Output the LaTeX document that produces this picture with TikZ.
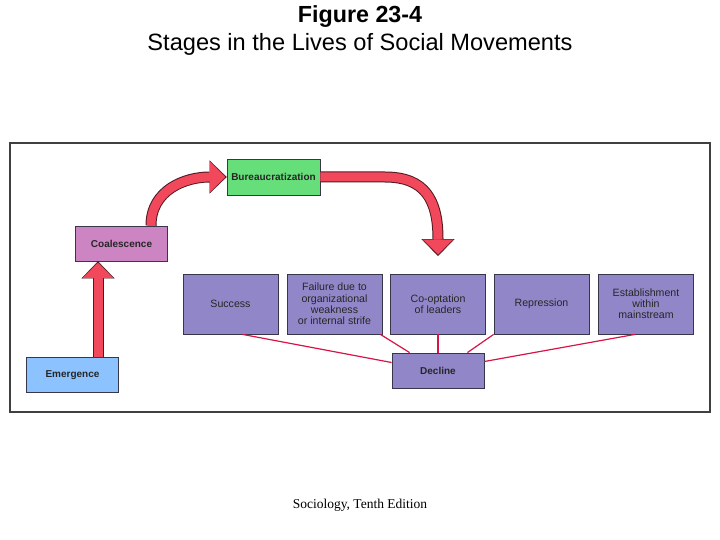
\documentclass[tikz,border=0pt]{standalone}
\usepackage{fontspec}
\setmainfont{Liberation Serif}
\setsansfont{Liberation Sans}
\usetikzlibrary{arrows.meta,calc}
\definecolor{emerg}{RGB}{140,195,255}
\definecolor{coal}{RGB}{205,132,195}
\definecolor{bureau}{RGB}{102,222,122}
\definecolor{stage}{RGB}{145,135,200}
\definecolor{fat}{RGB}{242,72,92}
\definecolor{fatline}{RGB}{80,25,35}
\definecolor{link}{RGB}{215,20,70}
\definecolor{edge}{RGB}{55,55,75}

\begin{document}
\begin{tikzpicture}[x=1pt,y=-1pt,
    box/.style={draw=edge,line width=0.8pt,fill=stage,
                minimum width=95pt,minimum height=60pt,inner sep=1pt,
                font=\fontsize{10.6}{11.2}\selectfont\sffamily,align=center,text=black!85},
    small/.style={box,minimum width=92pt,minimum height=35pt,
                  font=\fontsize{10}{11}\selectfont\sffamily\bfseries},
    fatout/.style={draw=fatline,line width=11pt,
                   -{Triangle[length=17pt,width=33pt,line width=0.1pt]}},
    fatin/.style={draw=fat,line width=9pt,shorten >=1.5pt,
                  -{Triangle[length=15pt,width=30pt,line width=0.1pt]}},
    lnk/.style={draw=link,line width=1.2pt}]
  \useasboundingbox (0,0) rectangle (720,540);
  % titles
  \node[anchor=base,font=\fontsize{23.3}{28}\selectfont\sffamily\bfseries]
    (fig) at (360,23) {Figure 23-4};
  \node[anchor=base,font=\fontsize{23.6}{28}\selectfont\sffamily]
    (sub) at (360,51) {Stages in the Lives of Social Movements};
  \draw[black!75,line width=1.3pt] (10,143) rectangle (710,412);
  % stages
  \node[small,fill=emerg] (emr) at (72.5,375) {Emergence};
  \node[small,fill=coal] (coa) at (121.5,243.5) {Coalescence};
  \node[small,fill=bureau,minimum width=93pt,minimum height=36pt]
    (bur) at (273.5,177) {Bureaucratization};
  \node[box] (suc) at (230.5,304) {Success};
  \node[box] (fai) at (334.5,304) {Failure due to\\organizational\\weakness\\or internal strife};
  \node[box] (coo) at (438,304) {Co-optation\\of leaders};
  \node[box] (rep) at (541.5,304) {Repression};
  \node[box] (est) at (646,304) {Establishment\\within\\mainstream};
  \node[small] (dec) at (438,370.5) {Decline};
  \coordinate (drop) at (438,256);
  % fat arrows
  \draw[fatout] ([xshift=25.5pt]emr.north) -- ([xshift=-23.5pt]coa.south);
  \draw[fatin] ([xshift=25.5pt]emr.north) -- ([xshift=-23.5pt]coa.south);
  \draw[fatout] ([xshift=29.5pt]coa.north) .. controls (151,190) and (185,177) .. (bur.west);
  \draw[fatin] ([xshift=29.5pt]coa.north) .. controls (151,190) and (185,177) .. (bur.west);
  \draw[fatout] (bur.east) -- (385,177) .. controls (425,177) and (438,200) .. (drop);
  \draw[fatin] (bur.east) -- (385,177) .. controls (425,177) and (438,200) .. (drop);
  % links to decline
  \draw[lnk] ([xshift=12pt]suc.south) -- ([yshift=8pt]dec.west);
  \draw[lnk] ([xshift=-2pt]fai.south east) -- ([xshift=18pt]dec.north west);
  \draw[lnk] (coo.south) -- (dec.north);
  \draw[lnk] (rep.south west) -- ([xshift=-17pt]dec.north east);
  \draw[lnk] ([xshift=-11pt]est.south) -- ([yshift=9pt]dec.east);
  % footer
  \node[anchor=base,font=\fontsize{13.5}{15}\selectfont\rmfamily] (src) at (360,508)
    {Sociology, Tenth Edition};
\end{tikzpicture}
\end{document}
